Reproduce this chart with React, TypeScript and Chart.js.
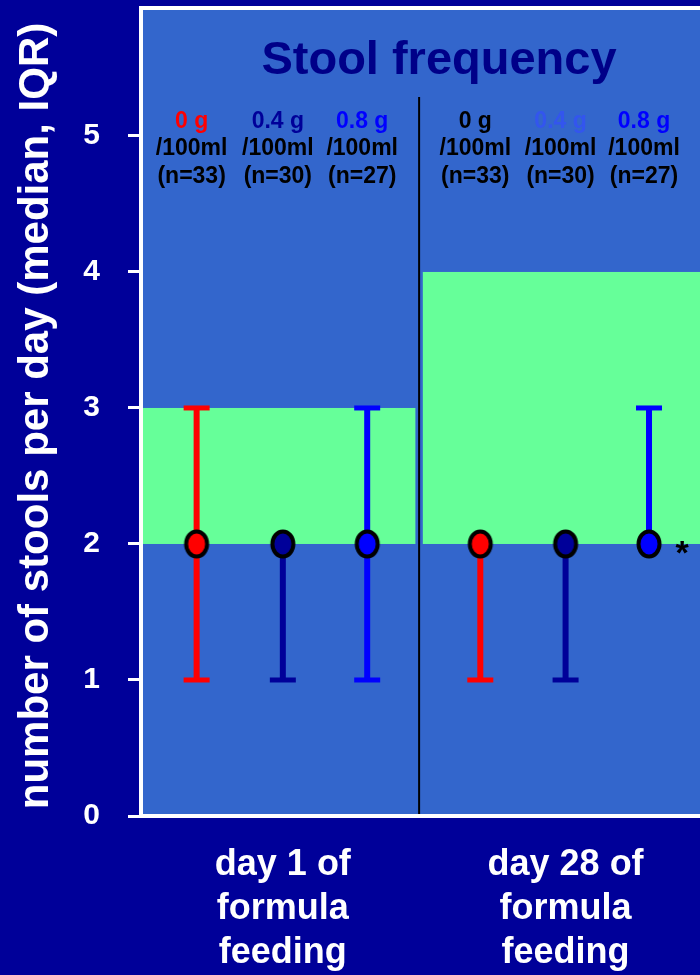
import React, { useEffect, useRef } from "react";
import { Chart, registerables } from "chart.js";

Chart.register(...registerables);

const FONT = '"Liberation Sans", Arial, Helvetica, sans-serif';

// ---- text ----
const chartTitle = "Stool frequency";
const yAxisTitle = "number of stools per day (median, IQR)";
const groupLabels = [
  ["day 1 of", "formula", "feeding"],
  ["day 28 of", "formula", "feeding"],
];
const groupCenters = [1.53, 4.58];
const yTickValues = [0, 1, 2, 3, 4, 5];

// ---- groups / doses ----
const doseLabels = ["0 g", "0.4 g", "0.8 g"];
const unitLabel = "/100ml";
const nLabels = ["(n=33)", "(n=30)", "(n=27)"];
const doseColors = ["#FF0000", "#000099", "#0000FF"];
const headerColorsDay1 = ["#FF0000", "#000099", "#0000FF"];
const headerColorsDay28 = ["#000000", "#3355EE", "#0000FF"];

// ---- series (x position per group, median, Q1, Q3) ----
const xPos0g = [0.6, 3.66];
const xPos04g = [1.53, 4.58];
const xPos08g = [2.44, 5.48];

const median0g = [2, 2];
const q1_0g = [1, 1];
const q3_0g = [3, 2];

const median04g = [2, 2];
const q1_04g = [1, 1];
const q3_04g = [2, 2];

const median08g = [2, 2];
const q1_08g = [1, 2];
const q3_08g = [3, 3];

const significant08g = [false, true];

// ---- reference band (green) per group ----
const refLow = [2, 2];
const refHigh = [3, 4];
const refXFrom = [0, 3.04];
const refXTo = [2.96, 6.03];
const dividerX = 3;

const seriesX = [xPos0g, xPos04g, xPos08g];
const seriesMed = [median0g, median04g, median08g];
const seriesQ1 = [q1_0g, q1_04g, q1_08g];
const seriesQ3 = [q3_0g, q3_04g, q3_08g];

const PAGE_BG = "#000099";
const PLOT_BG = "#3366CC";
const BAND = "#66FF99";

function makeMarker(fill: string): HTMLCanvasElement {
  const c = document.createElement("canvas");
  c.width = 30;
  c.height = 34;
  const g = c.getContext("2d")!;
  g.beginPath();
  g.ellipse(15, 17, 10.5, 12.5, 0, 0, Math.PI * 2);
  g.fillStyle = fill;
  g.fill();
  g.lineWidth = 4;
  g.strokeStyle = "#000000";
  g.stroke();
  return c;
}

const bgPlugin = {
  id: "bgPlugin",
  beforeDraw(chart: any) {
    const { ctx, chartArea, scales } = chart;
    const xs = scales.x;
    const ys = scales.y;
    ctx.save();
    ctx.fillStyle = PAGE_BG;
    ctx.fillRect(0, 0, chart.width, chart.height);
    ctx.fillStyle = PLOT_BG;
    ctx.fillRect(chartArea.left, chartArea.top, chartArea.right - chartArea.left, chartArea.bottom - chartArea.top);
    // reference bands
    ctx.fillStyle = BAND;
    for (let i = 0; i < refLow.length; i++) {
      const x0 = Math.max(xs.getPixelForValue(refXFrom[i]), chartArea.left);
      const x1 = Math.min(xs.getPixelForValue(refXTo[i]), chartArea.right);
      const y0 = ys.getPixelForValue(refHigh[i]);
      const y1 = ys.getPixelForValue(refLow[i]);
      ctx.fillRect(x0, y0, x1 - x0, y1 - y0);
    }
    // divider
    const dx = xs.getPixelForValue(dividerX);
    ctx.strokeStyle = "#000000";
    ctx.lineWidth = 2;
    ctx.beginPath();
    ctx.moveTo(dx, 97);
    ctx.lineTo(dx, chartArea.bottom);
    ctx.stroke();
    // top border
    ctx.strokeStyle = "#FFFFFF";
    ctx.lineWidth = 4;
    ctx.beginPath();
    ctx.moveTo(chartArea.left - 2, chartArea.top - 2);
    ctx.lineTo(chartArea.right, chartArea.top - 2);
    ctx.stroke();
    ctx.restore();
  },
};

const errorBarPlugin = {
  id: "errorBarPlugin",
  beforeDatasetsDraw(chart: any) {
    const { ctx, scales } = chart;
    const xs = scales.x;
    const ys = scales.y;
    ctx.save();
    ctx.lineCap = "butt";
    for (let d = 0; d < seriesX.length; d++) {
      ctx.strokeStyle = doseColors[d];
      for (let i = 0; i < seriesX[d].length; i++) {
        const px = xs.getPixelForValue(seriesX[d][i]);
        const yLo = ys.getPixelForValue(seriesQ1[d][i]);
        const yHi = ys.getPixelForValue(seriesQ3[d][i]);
        ctx.lineWidth = 6;
        ctx.beginPath();
        ctx.moveTo(px, yLo);
        ctx.lineTo(px, yHi);
        ctx.stroke();
        ctx.lineWidth = 5;
        if (seriesQ1[d][i] < seriesMed[d][i]) {
          ctx.beginPath();
          ctx.moveTo(px - 13, yLo);
          ctx.lineTo(px + 13, yLo);
          ctx.stroke();
        }
        if (seriesQ3[d][i] > seriesMed[d][i]) {
          ctx.beginPath();
          ctx.moveTo(px - 13, yHi);
          ctx.lineTo(px + 13, yHi);
          ctx.stroke();
        }
      }
    }
    ctx.restore();
  },
};

const textPlugin = {
  id: "textPlugin",
  afterDraw(chart: any) {
    const { ctx, scales } = chart;
    const xs = scales.x;
    const ys = scales.y;
    ctx.save();
    // title
    ctx.fillStyle = "#000088";
    ctx.font = `bold 47px ${FONT}`;
    ctx.textAlign = "center";
    ctx.textBaseline = "alphabetic";
    ctx.fillText(chartTitle, 439, 74);

    // headers
    ctx.font = `bold 23px ${FONT}`;
    for (let g = 0; g < 2; g++) {
      const colors = g === 0 ? headerColorsDay1 : headerColorsDay28;
      for (let d = 0; d < doseLabels.length; d++) {
        const px = xs.getPixelForValue(seriesX[d][g]) - 5;
        ctx.fillStyle = colors[d];
        ctx.fillText(doseLabels[d], px, 128);
        ctx.fillStyle = "#000000";
        ctx.fillText(unitLabel, px, 155);
        ctx.fillText(nLabels[d], px, 183);
      }
    }

    // significance asterisk
    ctx.fillStyle = "#000000";
    ctx.font = `bold 34px ${FONT}`;
    for (let g = 0; g < significant08g.length; g++) {
      if (significant08g[g]) {
        const px = xs.getPixelForValue(xPos08g[g]) + 33;
        const py = ys.getPixelForValue(median08g[g]);
        ctx.fillText("*", px, py + 20);
      }
    }

    // y-axis title
    ctx.fillStyle = "#FFFFFF";
    ctx.font = `bold 42px ${FONT}`;
    ctx.translate(48, 416);
    ctx.rotate(-Math.PI / 2);
    ctx.textAlign = "center";
    ctx.fillText(yAxisTitle, 0, 0);
    ctx.restore();
  },
};

const zeroPadding = (s: any) => {
  s.paddingTop = 0;
  s.paddingBottom = 0;
  s.paddingLeft = 0;
  s.paddingRight = 0;
};

export default function App() {
  const ref = useRef<HTMLCanvasElement | null>(null);

  useEffect(() => {
    document.body.style.margin = "0";
    const canvas = ref.current;
    if (!canvas) return;
    const datasets = seriesX.map((xsArr, d) => ({
      label: doseLabels[d],
      data: xsArr.map((x, i) => ({ x, y: seriesMed[d][i] })),
      pointStyle: makeMarker(doseColors[d]),
      backgroundColor: doseColors[d],
      borderColor: "#000000",
      borderWidth: 4,
      pointRadius: 13,
      pointHoverRadius: 13,
      showLine: false,
      clip: false,
    }));
    const chart = new Chart(canvas, {
      type: "scatter",
      data: { datasets },
      options: {
        responsive: false,
        animation: false,
        devicePixelRatio: 1,
        layout: { autoPadding: false, padding: { top: 10, right: 0, left: 0, bottom: 0 } },
        plugins: {
          legend: { display: false },
          tooltip: { enabled: false },
          title: { display: false },
        },
        scales: {
          x: {
            type: "linear",
            position: "bottom",
            min: 0,
            max: 6.03,
            afterFit: (s: any) => {
              s.height = 159;
              zeroPadding(s);
            },
            afterBuildTicks: (s: any) => {
              s.ticks = groupCenters.map((v) => ({ value: v }));
            },
            grid: { display: false, drawTicks: false },
            border: { display: true, color: "#FFFFFF", width: 4 },
            ticks: {
              autoSkip: false,
              maxRotation: 0,
              minRotation: 0,
              padding: 27,
              color: "#FFFFFF",
              font: { family: FONT, size: 36, weight: "bold", lineHeight: 1.22 },
              callback: (_v: any, i: number) => groupLabels[i],
            },
          },
          y: {
            type: "linear",
            min: 0,
            max: 5.926,
            afterFit: (s: any) => {
              s.width = 141;
              zeroPadding(s);
            },
            afterBuildTicks: (s: any) => {
              s.ticks = yTickValues.map((v) => ({ value: v }));
            },
            grid: {
              display: true,
              drawOnChartArea: false,
              drawTicks: true,
              tickLength: 13,
              color: "#FFFFFF",
              lineWidth: 3,
            },
            border: { display: true, color: "#FFFFFF", width: 4 },
            ticks: {
              padding: 28,
              color: "#FFFFFF",
              font: { family: FONT, size: 30, weight: "bold" },
              callback: (v: any) => String(v),
            },
          },
        },
      },
      plugins: [bgPlugin, errorBarPlugin, textPlugin],
    } as any);
    return () => chart.destroy();
  }, []);

  return (
    <div style={{ width: 700, height: 975, background: PAGE_BG }}>
      <canvas ref={ref} width={700} height={975} style={{ display: "block" }} />
    </div>
  );
}
